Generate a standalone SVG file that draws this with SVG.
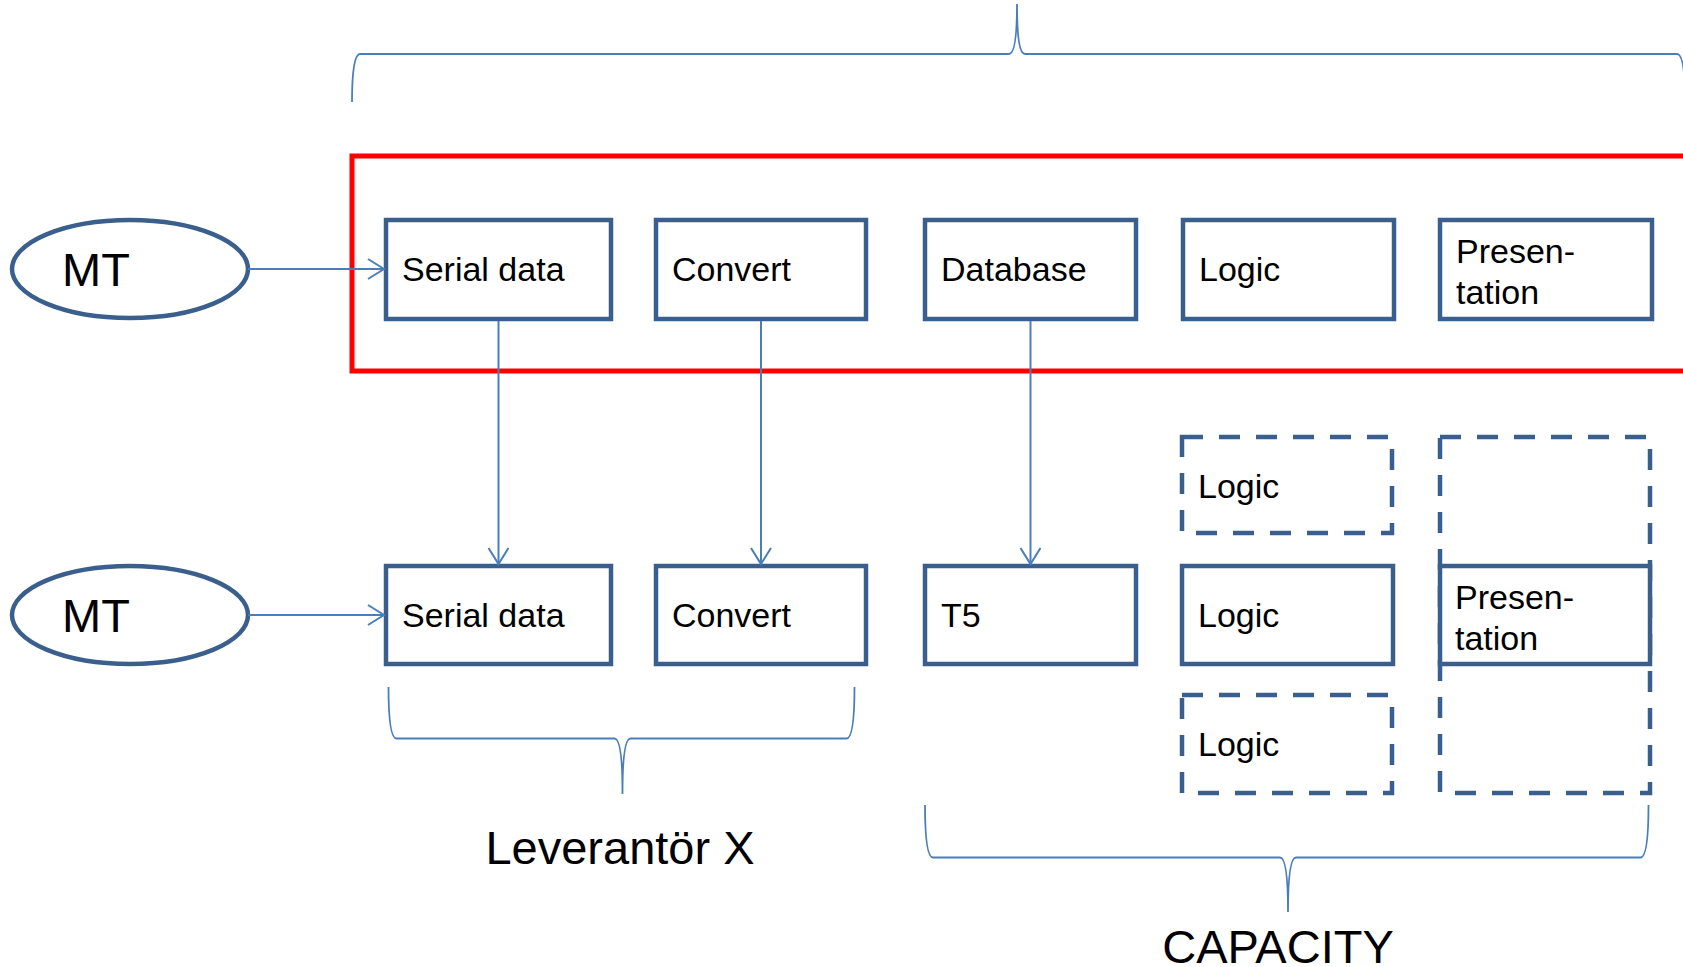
<svg xmlns="http://www.w3.org/2000/svg" width="1683" height="967" viewBox="0 0 1683 967">
  <style>
    .box { fill: #ffffff; stroke: #3A5F8D; stroke-width: 4.5; }
    .dash { fill: none; stroke: #3A5F8D; stroke-width: 4.5; stroke-dasharray: 21 16; }
    .oval { fill: #ffffff; stroke: #3A5F8D; stroke-width: 4.5; }
    .lbl { font-family: "Liberation Sans", Arial, sans-serif; font-size: 34px; fill: #000000; }
    .big { font-family: "Liberation Sans", Arial, sans-serif; font-size: 47px; fill: #000000; }
    .conn { fill: none; stroke: #4A7EBB; stroke-width: 2; }
    .brace { fill: none; stroke: #4A7EBB; stroke-width: 1.8; }
    .frame { fill: none; stroke: #FF0000; stroke-width: 5; }
  </style>
  <defs>
    <marker id="arr" markerUnits="userSpaceOnUse" markerWidth="22" markerHeight="26" refX="18" refY="12" orient="auto">
      <path d="M2,2 L18,12 L2,22" fill="none" stroke="#4A7EBB" stroke-width="2"/>
    </marker>
  </defs>

  <!-- braces -->
  <g id="braces">
    <path class="brace" d="M352,102 Q352,54 360,54 L1009,54 Q1017,54 1017,4 Q1017,54 1025,54 L1677,54 Q1685,54 1685,102"/>
    <path class="brace" d="M388.5,687 Q388.5,738.5 396.5,738.5 L614.5,738.5 Q622.5,738.5 622.5,794 Q622.5,738.5 630.5,738.5 L846.5,738.5 Q854.5,738.5 854.5,687"/>
    <path class="brace" d="M925,805 Q925,857.5 933,857.5 L1280,857.5 Q1288,857.5 1288,912 Q1288,857.5 1296,857.5 L1640.5,857.5 Q1648.5,857.5 1648.5,805"/>
  </g>

  <!-- highlighted frame -->
  <rect id="frame" class="frame" x="352" y="156" width="1400" height="215"/>

  <!-- top row -->
  <g id="mt-top">
    <ellipse class="oval" cx="130" cy="269" rx="118" ry="49"/>
    <text class="big" x="62" y="286">MT</text>
  </g>
  <g id="serial-top">
    <rect class="box" x="386" y="220" width="225" height="99"/>
    <text class="lbl" x="402" y="281">Serial data</text>
  </g>
  <g id="convert-top">
    <rect class="box" x="656" y="220" width="210" height="99"/>
    <text class="lbl" x="672" y="281">Convert</text>
  </g>
  <g id="database-top">
    <rect class="box" x="925" y="220" width="211" height="99"/>
    <text class="lbl" x="941" y="281">Database</text>
  </g>
  <g id="logic-top">
    <rect class="box" x="1183" y="220" width="211" height="99"/>
    <text class="lbl" x="1199" y="281">Logic</text>
  </g>
  <g id="presentation-top">
    <rect class="box" x="1440" y="220" width="212" height="99"/>
    <text class="lbl" x="1456" y="263">Presen-</text>
    <text class="lbl" x="1456" y="304">tation</text>
  </g>

  <!-- optional scaled-out components -->
  <g id="logic-extra-1">
    <rect class="dash" x="1182" y="437" width="210" height="96"/>
    <text class="lbl" x="1198" y="498">Logic</text>
  </g>
  <g id="logic-extra-2">
    <rect class="dash" x="1182" y="695" width="210" height="98"/>
    <text class="lbl" x="1198" y="756">Logic</text>
  </g>
  <g id="presentation-extra">
    <rect class="dash" x="1440" y="437" width="210" height="356"/>
  </g>

  <!-- bottom row -->
  <g id="mt-bottom">
    <ellipse class="oval" cx="130" cy="615" rx="118" ry="49"/>
    <text class="big" x="62" y="632">MT</text>
  </g>
  <g id="serial-bottom">
    <rect class="box" x="386" y="566" width="225" height="98"/>
    <text class="lbl" x="402" y="627">Serial data</text>
  </g>
  <g id="convert-bottom">
    <rect class="box" x="656" y="566" width="210" height="98"/>
    <text class="lbl" x="672" y="627">Convert</text>
  </g>
  <g id="t5">
    <rect class="box" x="925" y="566" width="211" height="98"/>
    <text class="lbl" x="941" y="627">T5</text>
  </g>
  <g id="logic-bottom">
    <rect class="box" x="1182" y="566" width="211" height="98"/>
    <text class="lbl" x="1198" y="627">Logic</text>
  </g>
  <g id="presentation-bottom">
    <rect class="box" x="1440" y="566" width="210" height="98"/>
    <text class="lbl" x="1455" y="609">Presen-</text>
    <text class="lbl" x="1455" y="650">tation</text>
  </g>

  <!-- connectors -->
  <g id="connectors">
    <line class="conn" x1="248" y1="269" x2="384" y2="269" marker-end="url(#arr)"/>
    <line class="conn" x1="248" y1="615" x2="384" y2="615" marker-end="url(#arr)"/>
    <line class="conn" x1="498.5" y1="321" x2="498.5" y2="564" marker-end="url(#arr)"/>
    <line class="conn" x1="761" y1="321" x2="761" y2="564" marker-end="url(#arr)"/>
    <line class="conn" x1="1030.5" y1="321" x2="1030.5" y2="564" marker-end="url(#arr)"/>
  </g>

  <!-- group captions -->
  <text class="big" x="620" y="864" text-anchor="middle">Leverantör X</text>
  <text class="big" x="1278" y="963" text-anchor="middle">CAPACITY</text>
</svg>
